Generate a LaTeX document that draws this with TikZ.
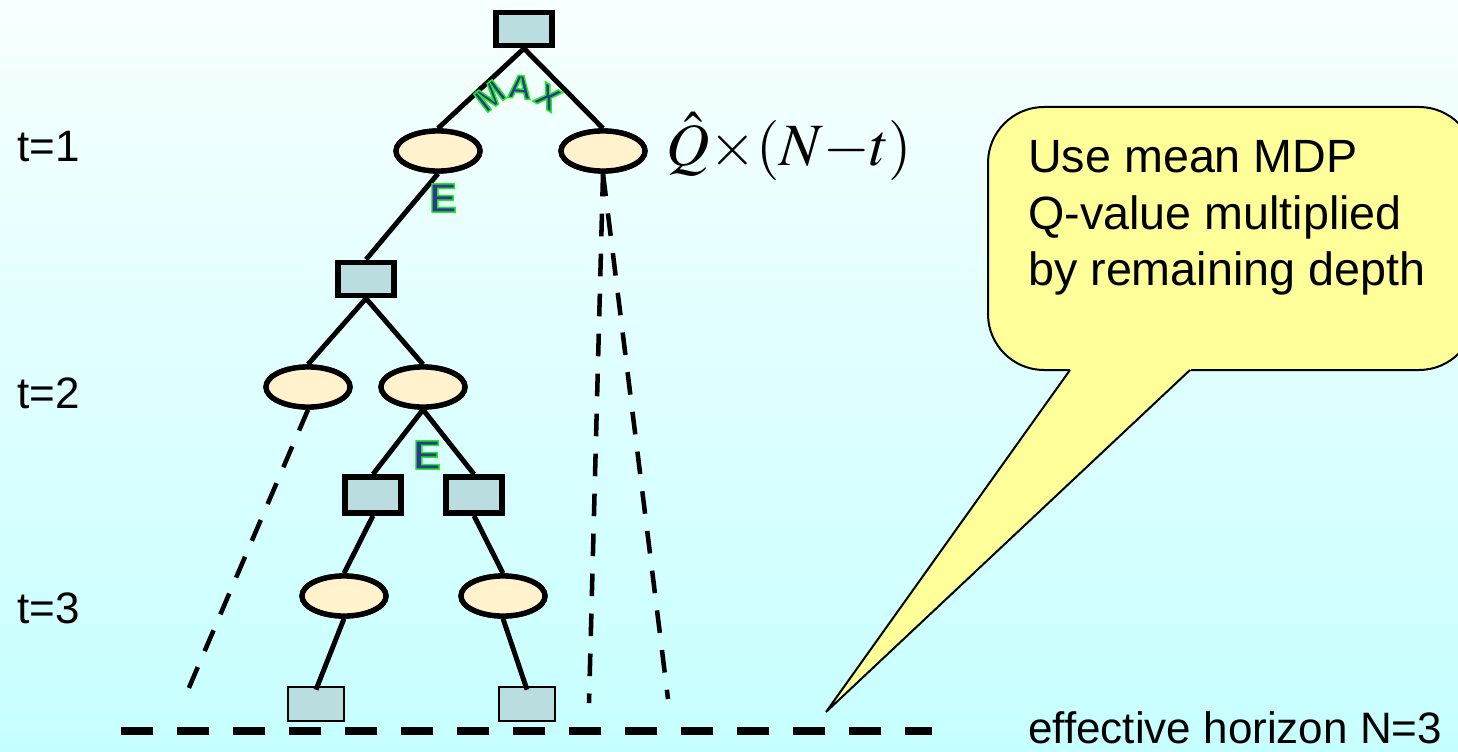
\documentclass[tikz,border=0pt]{standalone}
\usepackage{mathptmx}
\usepackage[no-math]{fontspec}
\setmainfont{Liberation Sans}
\usetikzlibrary{shapes.geometric}

\definecolor{bgtop}{RGB}{248,255,255}
\definecolor{bgbot}{RGB}{198,255,255}
\definecolor{stfill}{RGB}{186,222,224}
\definecolor{chfill}{RGB}{255,242,204}
\definecolor{notefill}{RGB}{255,255,153}
\definecolor{lblblue}{RGB}{51,51,153}

% filled letters with a green rim (fill + stroke text rendering)
\newcommand{\rimtext}[1]{%
  \special{pdf:literal direct 2 Tr 1.1 w 0.1 0.95 0.1 RG}#1%
  \special{pdf:literal direct 0 Tr 0 0 0 RG}}

\begin{document}
\begin{tikzpicture}[x=0.75pt,y=-0.75pt,
  statebox/.style={rectangle, draw, line width=4.2pt, fill=stfill, inner sep=0pt,
                   minimum width=42pt, minimum height=25pt},
  leafbox/.style={rectangle, draw, line width=1.5pt, fill=stfill, inner sep=0pt,
                  minimum width=42pt, minimum height=26pt},
  chance/.style={ellipse, draw, line width=4pt, fill=chfill, inner sep=0pt,
                 minimum width=63pt, minimum height=30pt},
  branch/.style={line width=3.7pt},
  rollout/.style={line width=3.4pt, dash pattern=on 17pt off 13pt},
  horizon/.style={line width=6pt, dash pattern=on 24pt off 18pt},
  tlabel/.style={anchor=base west, inner sep=0pt, font=\fontsize{33pt}{33pt}\selectfont},
  notetext/.style={anchor=base west, inner sep=0pt, font=\fontsize{35pt}{35pt}\selectfont},
  oplabel/.style={inner sep=0pt, text=lblblue, font=\bfseries\fontsize{25pt}{25pt}\selectfont},
  elabel/.style={inner sep=0pt, text=lblblue, font=\bfseries\fontsize{31pt}{31pt}\selectfont}]

\clip (0,0) rectangle (1458,752);
\shade[top color=bgtop, bottom color=bgbot] (0,0) rectangle (1458,752);

% level labels
\node[tlabel] (t1) at (17,162) {t=1};
\node[tlabel] (t2) at (17,408) {t=2};
\node[tlabel] (t3) at (17,623) {t=3};

% tree nodes
\node[statebox] (root) at (524,29) {};
\node[chance] (a1) at (438,151) {};
\node[chance] (a2) at (603,151) {};
\node[statebox] (s2) at (366,279) {};
\node[chance] (b1) at (308,387) {};
\node[chance] (b2) at (423,387) {};
\node[statebox, minimum height=27pt] (s3a) at (373,495) {};
\node[statebox, minimum height=27pt] (s3b) at (474,495) {};
\node[chance] (c1) at (344,596) {};
\node[chance] (c2) at (503,596) {};
\node[leafbox] (l1) at (316,704) {};
\node[leafbox] (l2) at (527,704) {};

% rollout ends and horizon
\coordinate (r1) at (185,697);
\coordinate (r2) at (589,703);
\coordinate (r3) at (668,699);
\coordinate (h1) at (121,731);
\coordinate (h2) at (932,731);

% tree edges
\draw[branch] (root.south) -- (a1.north);
\draw[branch] (root.south) -- (a2.north);
\draw[branch] (a1.south) -- (s2.north);
\draw[branch] (s2.south) -- (b1.north);
\draw[branch] (s2.south) -- (b2.north);
\draw[branch] (b2.south) -- (s3a.north);
\draw[branch] (b2.south) -- (s3b.north);
\draw[branch] (s3a.south) -- (c1.north);
\draw[branch] (s3b.south) -- (c2.north);
\draw[branch] (c1.south) -- ([yshift=-3pt]l1.north);
\draw[branch] (c2.south) -- ([yshift=-3pt]l2.north);

% node shapes redrawn over the edge ends
\node[statebox] at (root) {};
\node[chance] at (a1) {};
\node[chance] at (a2) {};
\node[statebox] at (s2) {};
\node[chance] at (b1) {};
\node[chance] at (b2) {};
\node[statebox, minimum height=27pt] at (s3a) {};
\node[statebox, minimum height=27pt] at (s3b) {};
\node[chance] at (c1) {};
\node[chance] at (c2) {};

% rollouts
\draw[rollout] (b1.south) -- (r1);
\draw[rollout] (a2.south) -- (r2);
\draw[rollout] (a2.south) -- (r3);
\draw[horizon] (h1) -- (h2);

% leaf estimate
\node[anchor=base west, inner sep=0pt, font=\fontsize{45pt}{45pt}\selectfont] (qhat) at (666,166)
  {$\hat{Q}{\times}(N{-}t)$};

% callout
\coordinate (tip) at (826,712);
\filldraw[fill=notefill, draw=black, line width=1.5pt, rounded corners=42pt]
  (988,107) rectangle (1475,370);
\fill[notefill] (tip) -- (1077,360) -- (1201,360) -- cycle;
\draw[line width=1.5pt, line join=miter] (1070,370) -- (tip) -- (1190,370);
\node[notetext] (n1) at (1028,173) {Use mean MDP};
\node[notetext] (n2) at (1028,229) {Q-value multiplied};
\node[notetext] (n3) at (1028,285) {by remaining depth};

\node[tlabel] (eh) at (1028,743) {effective horizon N=3};

% operator labels
\node[oplabel, rotate=38] (mM) at (490,96) {\rimtext{M}};
\node[oplabel, rotate=-6] (mA) at (520,87) {\rimtext{A}};
\node[oplabel, rotate=-32] (mX) at (548,97) {\rimtext{X}};
\node[elabel] (e1) at (443,198) {\rimtext{E}};
\node[elabel] (e2) at (427,455) {\rimtext{E}};
\end{tikzpicture}
\end{document}
